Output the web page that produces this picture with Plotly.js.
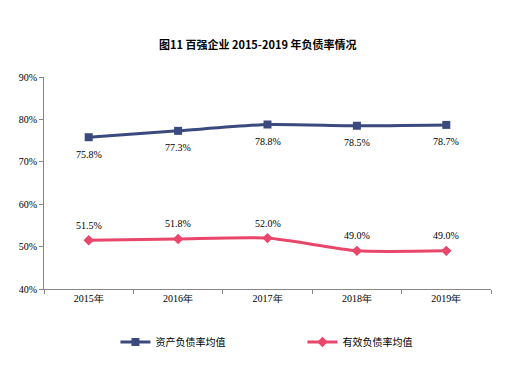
<!DOCTYPE html>
<html><head><meta charset="utf-8">
<script src="https://cdn.plot.ly/plotly-3.0.1.min.js"></script>
<style>html,body{margin:0;padding:0;background:#fff}#c{width:520px;height:369px}</style>
</head><body><div id="c"></div>
<script>
const categories = ['2015年','2016年','2017年','2018年','2019年'];
const assetRatio = [75.8, 77.3, 78.8, 78.5, 78.7];
const effectiveRatio = [51.5, 51.8, 52.0, 49.0, 49.0];
const seriesNames = ['资产负债率均值','有效负债率均值'];
const yTicks = [40,50,60,70,80,90];

const serif = 'Liberation Serif, Times New Roman, serif';
const cjk = 'Noto Sans CJK SC, sans-serif';

const traces = [
  {x: categories, y: assetRatio, name: seriesNames[0], type:'scatter', mode:'lines+markers',
   line:{color:'#3B4A7E', width:3, shape:'spline', smoothing:0.6},
   marker:{symbol:'square', size:8, color:'#3B4A7E'}},
  {x: categories, y: effectiveRatio, name: seriesNames[1], type:'scatter', mode:'lines+markers',
   line:{color:'#E8466A', width:3, shape:'spline', smoothing:0.6},
   marker:{symbol:'diamond', size:8, color:'#E8466A'}}
];

const annotations = [];
categories.forEach((c,i)=>{
  annotations.push({x:c, y:assetRatio[i], text:assetRatio[i].toFixed(1)+'%', showarrow:false,
    yshift:-17, font:{family:serif, size:10, color:'#000'}});
  annotations.push({x:c, y:effectiveRatio[i], text:effectiveRatio[i].toFixed(1)+'%', showarrow:false,
    yshift:15, font:{family:serif, size:10, color:'#000'}});
});

const layout = {
  width:520, height:369,
  margin:{l:44, r:29, t:77, b:80},
  paper_bgcolor:'#fff', plot_bgcolor:'#fff',
  title:{text:'<b>图11 百强企业 2015-2019 年负债率情况</b>', xref:'paper', x:0.478, xanchor:'center', y:0.878, yanchor:'middle',
    font:{family:cjk, size:11, color:'#000'}},
  xaxis:{type:'category', showline:true, linecolor:'#868686', linewidth:1, ticks:'outside', ticklen:4,
    tickcolor:'#868686', tickson:'boundaries', showgrid:false, zeroline:false,
    tickfont:{family:serif, size:10, color:'#000'}, range:[-0.5,4.5]},
  yaxis:{range:[40,90], tickvals:yTicks, ticktext:yTicks.map(v=>v+'%'), showline:true, linecolor:'#868686',
    linewidth:1, ticks:'outside', ticklen:4, tickcolor:'#868686', showgrid:false, zeroline:false,
    tickfont:{family:serif, size:10, color:'#000'}},
  showlegend:true,
  legend:{orientation:'h', xref:'container', yref:'container', x:0.222, xanchor:'left', y:0.073, yanchor:'middle',
    entrywidth:142, font:{family:cjk, size:10, color:'#000'}, bgcolor:'rgba(0,0,0,0)'},
  annotations: annotations
};
Plotly.newPlot('c', traces, layout, {displayModeBar:false});
</script></body></html>
